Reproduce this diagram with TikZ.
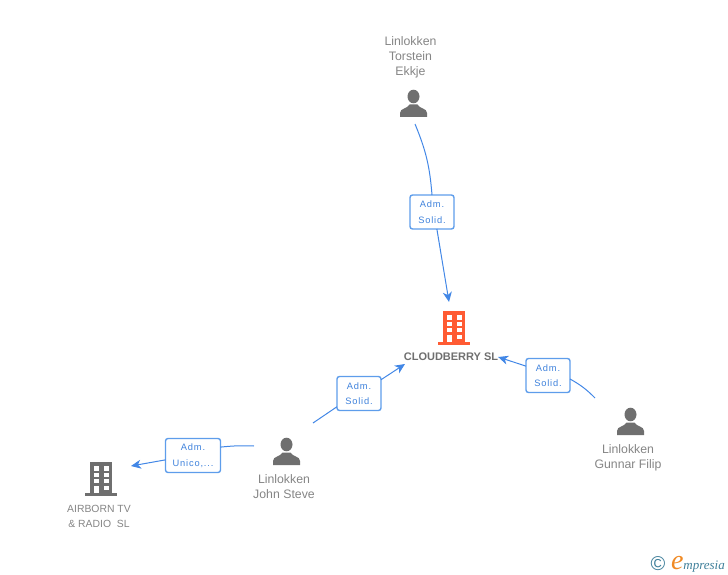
\documentclass[tikz,border=0pt]{standalone}
\usepackage{fontspec}
\setmainfont{Liberation Sans}
\newfontfamily\boxfont[LetterSpace=9]{Liberation Sans}
\newfontfamily\logofont{Liberation Serif}
\usetikzlibrary{arrows.meta,positioning}
\definecolor{linkblue}{HTML}{4287E6}
\definecolor{boxblue}{HTML}{5E9DEB}
\definecolor{boxtext}{HTML}{3F82DC}
\definecolor{icongrey}{HTML}{6F6F6F}
\definecolor{labelgrey}{HTML}{858585}
\definecolor{iconorange}{HTML}{FF5B33}
\definecolor{logoteal}{HTML}{3F7F9A}
\definecolor{logoorange}{HTML}{F08A24}
\tikzset{
  iconspot/.style={inset sep=0pt,minimum width=27pt,minimum height=27pt},
  inset sep/.style={inner sep=#1,outer sep=0pt},
  towerspot/.style={inset sep=0pt,minimum width=32pt,minimum height=34pt},
  namelabel/.style={inset sep=0pt,text=labelgrey,align=center,font=\fontsize{12.3}{15}\selectfont},
  smalllabel/.style={inset sep=0pt,text=labelgrey,align=center,font=\fontsize{10.4}{15}\selectfont},
  rolebox/.style={draw=boxblue,line width=1.4pt,fill=white,rounded corners=2.5pt,inset sep=0pt,
    minimum height=34pt,text=boxtext,align=center,font=\boxfont\fontsize{9.3}{15.5}\selectfont},
  link/.style={draw=linkblue,line width=1pt},
  linkarrow/.style={link,-{Stealth[length=10pt,width=9pt,inset=3pt]}},
  personicon/.pic={
    \fill[icongrey] (0,-7) ellipse (6 and 6.8);
    \fill[icongrey] (-13.5,13.5) -- (-13.5,9.5) .. controls (-13.5,4.5) and (-6,5.5) .. (-4,1)
      -- (4,1) .. controls (6,5.5) and (13.5,4.5) .. (13.5,9.5) -- (13.5,13.5) -- cycle;
  },
  towericon/.pic={
    \path[pic actions] (-11,-17) rectangle (11,14);
    \path[pic actions] (-16,14) rectangle (16,17);
    \foreach \wy/\wh in {-13/5,-6/4,0/4,7/4}{
      \fill[white] (-7,\wy) rectangle (-2,\wy+\wh);
      \fill[white] (3,\wy) rectangle (8,\wy+\wh);
    }
    \fill[white] (-7,7) rectangle (-2,14);
  }
}

\begin{document}
\begin{tikzpicture}[x=1pt,y=-1pt]
  \useasboundingbox (0,0) rectangle (728,575);

  % people and companies
  \node[iconspot] (torstein) at (413.5,103.5) {};
  \node[iconspot] (john) at (286.5,451.5) {};
  \node[iconspot] (filip) at (630.5,421.5) {};
  \node[towerspot] (cloudberry) at (454,328) {};
  \node[towerspot] (airborn) at (101,479) {};
  \pic at (torstein) {personicon};
  \pic at (john) {personicon};
  \pic at (filip) {personicon};
  \pic[fill=iconorange] at (cloudberry) {towericon};
  \pic[fill=icongrey] at (airborn) {towericon};

  \node[namelabel,xshift=-3pt] (torstein name) [above=12pt of torstein] {Linlokken\\Torstein\\Ekkje};
  \node[namelabel,xshift=-2.5pt] (john name) [below=10pt of john] {Linlokken\\John Steve};
  \node[namelabel,xshift=-2.5pt] (filip name) [below=10pt of filip] {Linlokken\\Gunnar Filip};
  \node[inset sep=0pt,text=icongrey,font=\bfseries\fontsize{11}{13}\selectfont] (cloudberry name) at (451,357) {CLOUDBERRY SL};
  \node[smalllabel,xshift=-2pt] (airborn name) [below=9pt of airborn] {AIRBORN TV\\\& RADIO~~SL};

  % role boxes
  \node[rolebox,minimum width=44pt] (top box) at (432,212) {Adm.\\Solid.};
  \node[rolebox,minimum width=44pt] (right box) at (548,375.5) {Adm.\\Solid.};
  \node[rolebox,minimum width=44pt] (mid box) at (359,393.5) {Adm.\\Solid.};
  \node[rolebox,minimum width=55pt] (left box) at (193,455.5) {Adm.\\Unico,...};

  % free ends of the links
  \coordinate (torstein out) at (415,124);
  \coordinate (john right) at (313,423);
  \coordinate (john left) at (254,446);
  \coordinate (filip out) at (595,398);
  \coordinate (cloudberry top) at (449,302);
  \coordinate (cloudberry low) at (405,364);
  \coordinate (airborn in) at (131,466);

  \path
    (torstein out) edge [link,bend left=9] (top box.north)
    (top box.286) edge [linkarrow] (cloudberry top)
    (filip out) edge [link,bend right=8] (right box.351)
    (right box.157) edge [linkarrow] (cloudberry name.east)
    (john right) edge [link] (mid box.211)
    (mid box.32) edge [linkarrow] (cloudberry low)
    (john left) edge [link,bend right=4] (left box.17)
    (left box.189) edge [linkarrow] (airborn in);

  % logo
  \node[inset sep=0pt,text=logoteal,font=\fontsize{20}{20}\selectfont] (logo mark) at (658,564) {\textcopyright};
  \node[inset sep=0pt,text=logoteal,anchor=base west,font=\logofont\itshape\fontsize{13}{13}\selectfont] (logo word) at (671,569) {{\color{logoorange}\fontsize{28}{28}\selectfont e}mpresia};
\end{tikzpicture}
\end{document}
